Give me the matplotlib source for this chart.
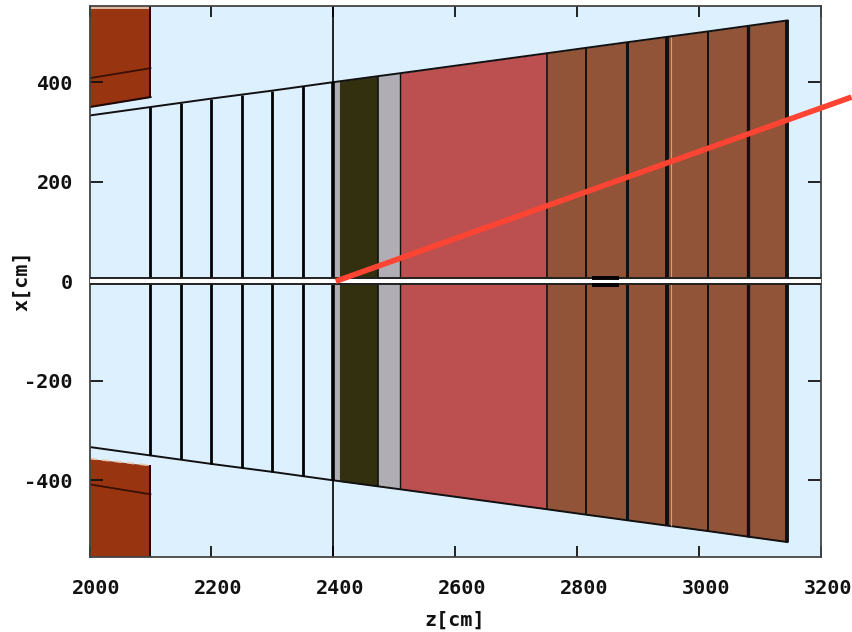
import numpy as np
import matplotlib
matplotlib.use('Agg')
import matplotlib.pyplot as plt
from matplotlib.transforms import ScaledTranslation

# tracker planes: z position, half height at that z, line width
plane_z = [2100, 2150, 2200, 2250, 2300, 2350, 2400]
plane_x = [350, 358, 367, 375, 383, 392, 400]
plane_lw = [2.0, 2.0, 2.0, 2.0, 2.0, 2.0, 2.6]

# envelope of the detector
env_z = [2000, 2100, 2200, 2300, 2400, 2473, 2510, 2750, 2815, 2881, 2948, 3015, 3080, 3145]
env_x = [333, 350, 367, 383, 400, 412, 418, 458, 469, 480, 491, 502, 513, 524]

# coloured sections
sec_start = [2400, 2410, 2473, 2510, 2750, 2815, 2881, 2948, 3015, 3080]
sec_end = [2410, 2473, 2510, 2750, 2815, 2881, 2948, 3015, 3080, 3145]
sec_top0 = [400, 402, 412, 418, 458, 469, 480, 491, 502, 513]
sec_top1 = [402, 412, 418, 458, 469, 480, 491, 502, 513, 524]
sec_col = ['#b0aeb4', '#32300f', '#b0aeb4', '#bc5050', '#925438', '#925438',
           '#925438', '#925438', '#925438', '#925438']

# dividers between the outer sections
div_z = [2473, 2510, 2750, 2815, 2881, 2948, 3015, 3080, 3145]
div_x = [412, 418, 458, 469, 480, 491, 502, 513, 524]
div_lw = [1.2, 1.0, 1.2, 1.4, 2.2, 2.8, 1.4, 2.4, 2.8]

# iron blocks in the corners
block_z = [2000, 2100]
block_up = [350, 370]
block_low = [356, 370]
block_mid = [408, 428]
block_top = 553

# red track
ray_z = [2404, 3250]
ray_x = [0, 370]

xticks = [2000, 2200, 2400, 2600, 2800, 3000, 3200]
yticks = [-400, -200, 0, 200, 400]

fig = plt.figure(figsize=(8.52, 6.32), dpi=100)
ax = fig.add_axes([89.5 / 852, 1 - 556.5 / 632, (821 - 89.5) / 852, (556.5 - 6) / 632])
ax.set_facecolor('#ddf0fe')
ax.set_xlim(2000, 3200)
ax.set_ylim(-553, 553)

for s, e, t0, t1, c in zip(sec_start, sec_end, sec_top0, sec_top1, sec_col):
    ax.fill_between([s, e], [t0, t1], 0, color=c, lw=0)
    ax.fill_between([s, e], [-t0, -t1], 0, color=c, lw=0)

ax.fill_between(block_z, block_up, block_top, color='#983510', lw=0)
ax.fill_between(block_z, [-v for v in block_low], -block_top, color='#983510', lw=0)
ax.plot(block_z, block_up, color='#200805', lw=1.5)
ax.plot(block_z, [-v for v in block_low], color='#e8c8b0', lw=1.3, ls=(0, (4, 3)))
for sign in [1, -1]:
    ax.plot(block_z, [sign * v for v in block_mid], color='#3a0f05', lw=1.3)
    ax.plot(env_z, [sign * v for v in env_x], color='#111111', lw=1.4)
    ax.vlines(plane_z, 0, [sign * v for v in plane_x], color='black', lw=plane_lw)
    ax.vlines(div_z, 0, [sign * v for v in div_x], color='#111111', lw=div_lw)
ax.vlines(block_z[1], 370, 553, color='#200805', lw=1.4)
ax.vlines(block_z[1], -553, -370, color='#200805', lw=1.4)
ax.fill_between(block_z, 546, 553, color='#e0b8a0', lw=0)
ax.vlines(2400, -553, 553, color='black', lw=1.2)
ax.vlines(2954, -491, 491, color='#b8a898', lw=0.8)

# beam pipe
ax.axhspan(-4.5, 4.5, color='white', lw=0, zorder=3)
ax.hlines([-6.5, 6.5], 2000, 3200, color='#222222', lw=1.4, zorder=3)
ax.hlines([-7, 7], 2825, 2868, color='black', lw=2.8, zorder=3)

ax.plot(ray_z, ray_x, color='#ff4433', lw=4.0, clip_on=False, solid_capstyle='butt', zorder=5)

ax.set_xticks(xticks)
ax.set_yticks(yticks)
ax.tick_params(axis='x', direction='in', top=True, bottom=True, length=8, width=1.3, pad=16, color='#111111')
ax.tick_params(axis='y', direction='in', left=True, right=True, length=9.5, width=1.3, pad=12, color='#111111')
font = dict(family='DejaVu Sans Mono', fontweight='bold', fontsize=14.5, color='#111111')
ax.set_xticklabels([str(v) for v in xticks], **font)
ax.set_yticklabels([str(v) for v in yticks], **font)
shift = ScaledTranslation(7 / 100, 0, fig.dpi_scale_trans)
for lab in ax.get_xticklabels():
    lab.set_transform(lab.get_transform() + shift)

for sp in ax.spines.values():
    sp.set_color('#444444')
    sp.set_linewidth(1.3)

fig.text(455 / 852, 1 - 620 / 632, 'z[cm]', ha='center', va='center', **font)
fig.text(22 / 852, 1 - 281 / 632, 'x[cm]', ha='center', va='center', rotation=90, **font)

fig.savefig('out.png', dpi=100)
